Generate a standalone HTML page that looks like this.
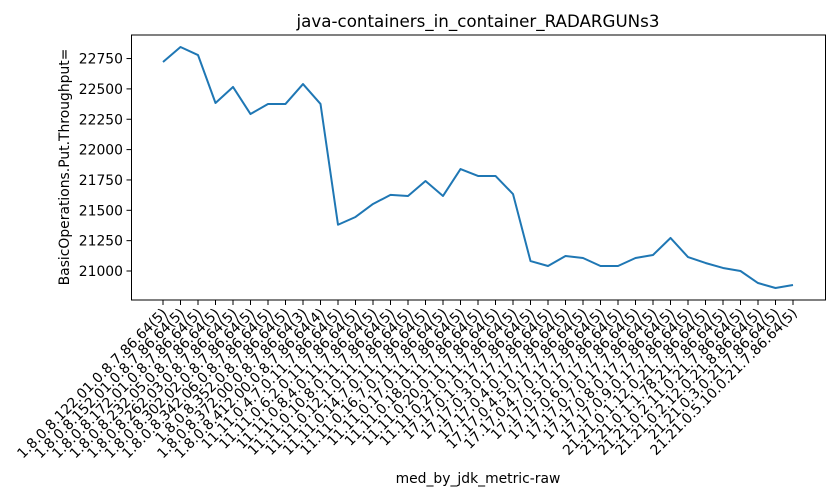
<!DOCTYPE html>
<html><head><meta charset="utf-8"><style>
body{margin:0;background:#fff}
svg{display:block;font-family:"DejaVu Sans","Liberation Sans",sans-serif}
</style></head><body>
<svg id="chart" width="840" height="500" xmlns="http://www.w3.org/2000/svg">
<rect width="840" height="500" fill="#fff"/>
<text x="478" y="27" font-size="16.7" text-anchor="middle">java-containers_in_container_RADARGUNs3</text>
<text x="478" y="483" font-size="13.9" text-anchor="middle">med_by_jdk_metric-raw</text>
<text transform="translate(69,167) rotate(-90)" font-size="13.9" text-anchor="middle">BasicOperations.Put.Throughput=</text>
<g id="yticks"></g><g id="xticks"></g>
<path id="series" fill="none" stroke="#1f77b4" stroke-width="2" stroke-linejoin="round"/>
<rect x="131.5" y="35" width="694" height="265" fill="none" stroke="#000" stroke-width="1"/>
</svg>
<script>
const categories = [
"1.8.0.8.122.01.0.8.7.86.64(5)","1.8.0.8.152.01.0.8.7.86.64(5)","1.8.0.8.172.01.0.8.7.86.64(5)","1.8.0.8.232.05.0.8.7.86.64(5)","1.8.0.8.262.03.0.8.7.86.64(5)","1.8.0.8.302.02.0.8.7.86.64(5)","1.8.0.8.342.06.0.8.7.86.64(5)","1.8.0.8.352.0.8.7.86.64(5)","1.8.0.8.372.00.0.8.7.86.64(3)","1.8.0.8.412.00.0.8.7.86.64(4)",
"11.11.0.4.7.0.11.7.86.64(5)","11.11.0.6.2.0.11.7.86.64(5)","11.11.0.8.4.0.11.7.86.64(5)","11.11.0.10.8.0.11.7.86.64(5)","11.11.0.12.1.0.11.7.86.64(5)","11.11.0.14.7.0.11.7.86.64(5)","11.11.0.16.7.0.11.7.86.64(5)","11.11.0.17.0.11.7.86.64(5)","11.11.0.18.0.11.7.86.64(5)","11.11.0.20.0.11.7.86.64(5)","11.11.0.21.0.11.7.86.64(5)",
"17.17.0.1.0.17.7.86.64(5)","17.17.0.3.0.17.7.86.64(5)","17.17.0.4.0.17.7.86.64(5)","17.17.0.4.5.0.17.7.86.64(5)","17.17.0.4.7.0.17.7.86.64(5)","17.17.0.5.0.17.7.86.64(5)","17.17.0.6.0.17.7.86.64(5)","17.17.0.7.0.17.7.86.64(5)","17.17.0.8.0.17.7.86.64(5)","17.17.0.9.0.17.7.86.64(5)",
"21.21.0.1.12.0.21.7.86.64(5)","21.21.0.1.1.78.21.7.86.64(5)","21.21.0.2.11.0.21.7.86.64(5)","21.21.0.2.12.0.21.8.86.64(5)","21.21.0.3.0.21.7.86.64(5)","21.21.0.5.10.0.21.7.86.64(5)"
];
const values = [22722,22845,22779,22384,22516,22293,22376,22376,22540,22376,
21381,21445,21552,21627,21618,21741,21618,21840,21783,21783,21634,
21082,21041,21124,21107,21041,21041,21107,21132,21272,21115,
21066,21025,21000,20901,20860,20885];
const yTicks = [21000,21250,21500,21750,22000,22250,22500,22750];

const X0=163, DX=17.5;
const xScale = i => X0 + i*DX;
const yScale = v => 271 - (v-21000)*30.35/250;
const NS="http://www.w3.org/2000/svg";
const yg=document.getElementById('yticks'), xg=document.getElementById('xticks');
yTicks.forEach(t=>{
  const y=yScale(t);
  const l=document.createElementNS(NS,'line');
  l.setAttribute('x1',126.5);l.setAttribute('x2',131.5);l.setAttribute('y1',y);l.setAttribute('y2',y);l.setAttribute('stroke','#000');
  
  
  yg.appendChild(l);
  const tx=document.createElementNS(NS,'text');
  tx.setAttribute('x',123);tx.setAttribute('y',y+5);tx.setAttribute('font-size','13.9');tx.setAttribute('text-anchor','end');
  tx.textContent=t;
  
  
  yg.appendChild(tx);
});
categories.forEach((c,i)=>{
  const x=xScale(i);
  const l=document.createElementNS(NS,'line');
  l.setAttribute('x1',x);l.setAttribute('x2',x);l.setAttribute('y1',300);l.setAttribute('y2',305);l.setAttribute('stroke','#000');
  
  
  xg.appendChild(l);
  const tx=document.createElementNS(NS,'text');
  tx.setAttribute('transform','translate('+(x+5)+',314) rotate(-45)');
  tx.setAttribute('font-size','13.9');tx.setAttribute('text-anchor','end');
  tx.textContent=c;
  
  
  xg.appendChild(tx);
});
document.getElementById('series').setAttribute('d', values.map((v,i)=>(i?'L':'M')+xScale(i)+','+yScale(v)).join(''));
</script>
</body></html>
